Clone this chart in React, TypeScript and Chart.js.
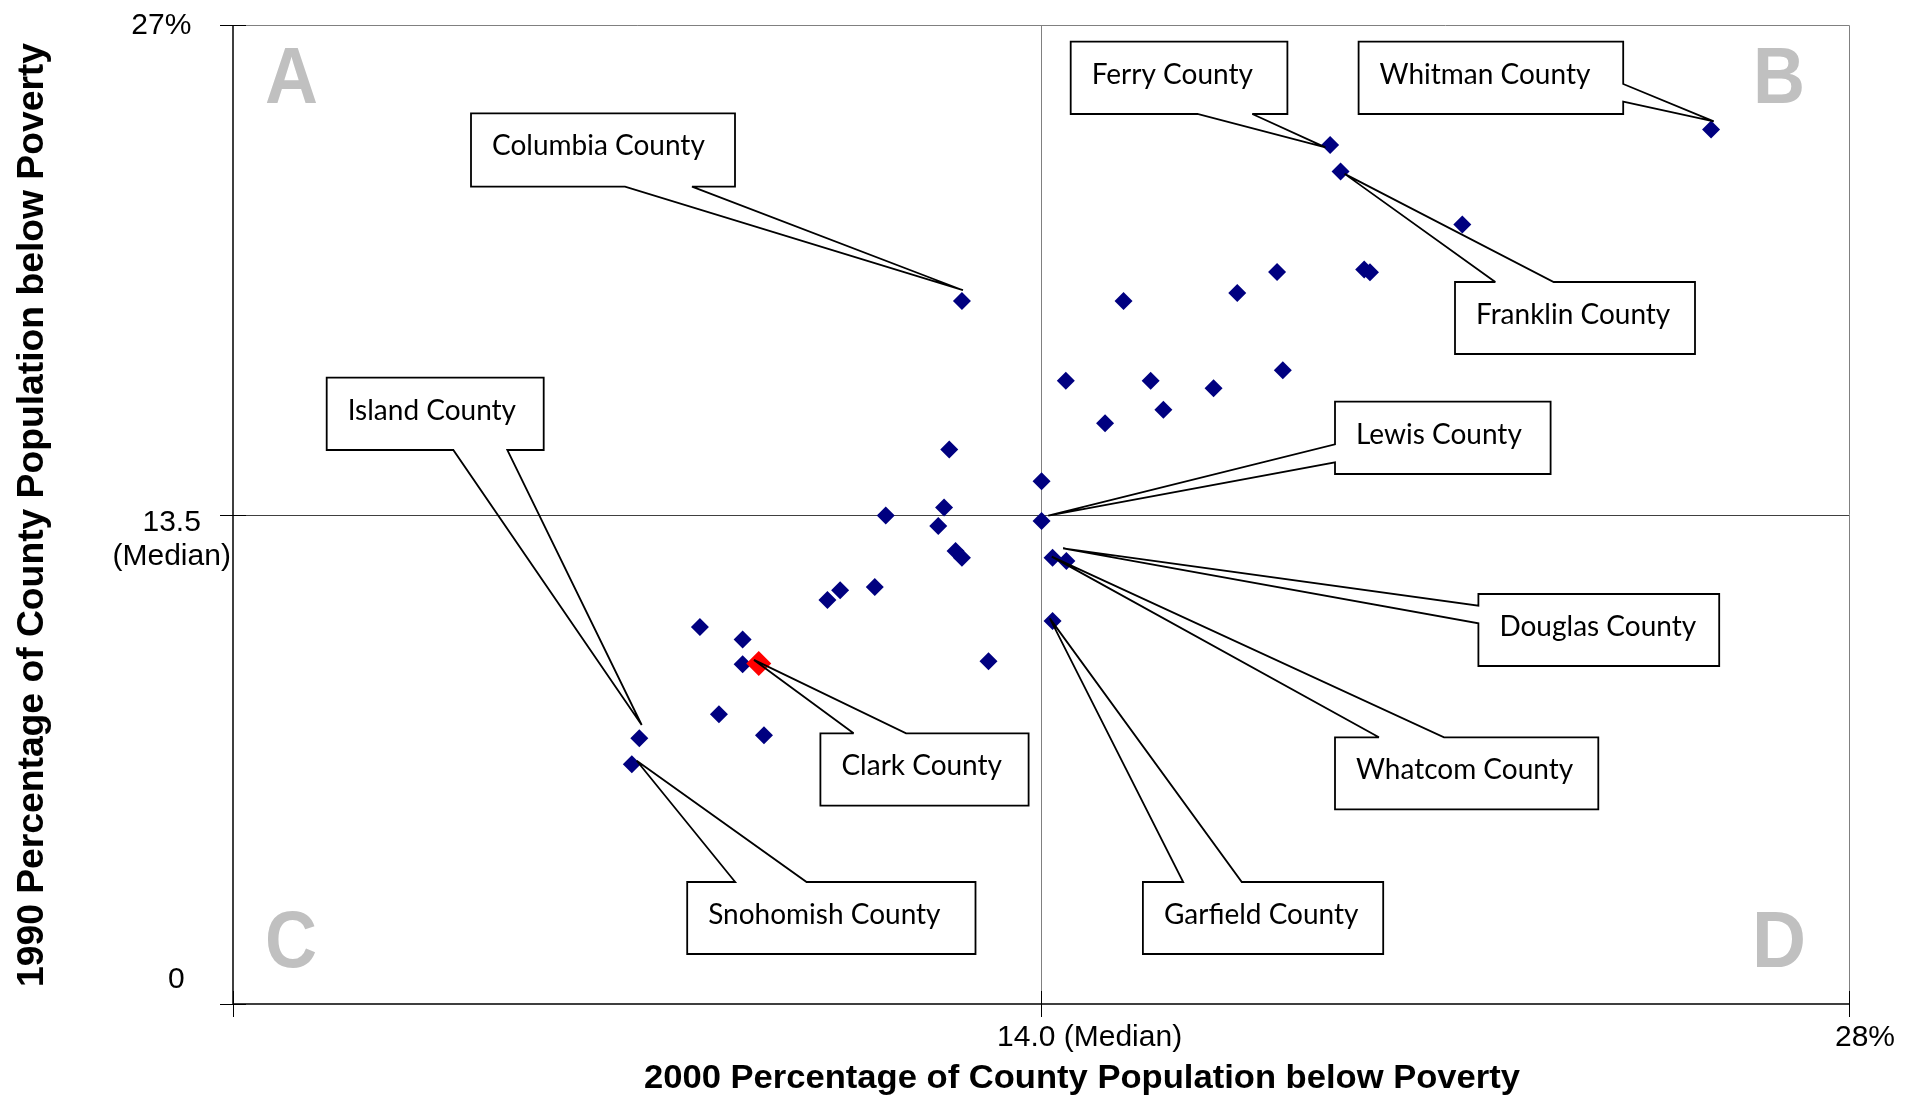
import React, { useEffect, useRef } from "react";
import { Chart, registerables } from "chart.js";

Chart.register(...registerables);

// ---------------- data ----------------
const countyNames = [
  "Whitman County", "Ferry County", "Franklin County", "", "", "", "", "", "", "Columbia County",
  "", "", "", "", "", "", "", "", "Lewis County", "",
  "", "", "", "", "Whatcom County", "Douglas County", "", "", "", "Garfield County",
  "", "", "", "Clark County", "", "", "", "Island County", "Snohomish County",
];
// 2000 percentage of county population below poverty (x)
const poverty2000 = [
  25.61, 19.01, 19.19, 21.3, 19.6, 19.7, 18.09, 17.4, 15.43, 12.63,
  18.19, 14.43, 15.9, 16.99, 16.12, 15.11, 12.41, 14.01, 14.01, 12.32,
  11.31, 12.22, 12.52, 12.63, 14.2, 14.44, 11.12, 10.52, 10.3, 14.2,
  8.09, 8.83, 8.83, 9.11, 13.09, 8.42, 9.2, 7.04, 6.91,
];
// 1990 percentage of county population below poverty (y)
const poverty1990 = [
  24.12, 23.69, 22.96, 21.5, 20.26, 20.18, 20.19, 19.61, 19.39, 19.39,
  17.48, 17.19, 17.19, 16.98, 16.39, 16.02, 15.29, 14.42, 13.32, 13.69,
  13.47, 13.18, 12.49, 12.31, 12.31, 12.22, 11.5, 11.41, 11.14, 10.56,
  10.4, 10.05, 9.37, 9.39, 9.45, 7.99, 7.41, 7.33, 6.61,
];
const highlightedCounty = "Clark County";

const xMedian = 14.0;
const yMedian = 13.5;
const xAxisMax = 28;
const yAxisMax = 27;
const xTickValues = [0, 14, 28];
const xTickLabels = ["", "14.0 (Median)", "28%"];
const yTickValues = [0, 13.5, 27];
const yTickLabels = [["0"], ["13.5", "(Median)"], ["27%"]];
const quadrantLetters = ["A", "B", "C", "D"];
const xAxisTitle = "2000 Percentage of County Population below Poverty";
const yAxisTitle = "1990 Percentage of County Population below Poverty";

// ---------------- layout of callouts (canvas pixels) ----------------
type Callout = {
  county: string;
  box: [number, number, number, number]; // left, top, right, bottom
  side: "top" | "right" | "bottom" | "left";
  base: [number, number];
  tipOffset: [number, number];
};
const CALLOUTS: Callout[] = [
  { county: "Columbia County", box: [471, 113.3, 735, 186.7], side: "bottom", base: [625, 692], tipOffset: [1, -10.7] },
  { county: "Ferry County", box: [1070.7, 41.7, 1287.4, 114], side: "bottom", base: [1197.4, 1252.3], tipOffset: [-4.7, 2.3] },
  { county: "Whitman County", box: [1358.6, 41.7, 1623.2, 114], side: "right", base: [84, 101.7], tipOffset: [2.7, -8.1] },
  { county: "Franklin County", box: [1455, 282, 1695, 354], side: "top", base: [1495.3, 1553.7], tipOffset: [4.1, 2.4] },
  { county: "Lewis County", box: [1335, 401.7, 1550.6, 474], side: "left", base: [444.3, 462.3], tipOffset: [6.7, -5.4] },
  { county: "Douglas County", box: [1478.4, 594, 1719.2, 666], side: "left", base: [605.7, 623.3], tipOffset: [-3.3, -12.5] },
  { county: "Whatcom County", box: [1335, 737.3, 1598.3, 809.3], side: "top", base: [1378.9, 1444], tipOffset: [-0.8, -1] },
  { county: "Garfield County", box: [1142.9, 882, 1383.2, 954], side: "top", base: [1183.2, 1241.8], tipOffset: [-2.7, -2.7] },
  { county: "Snohomish County", box: [687.2, 882, 975.5, 954], side: "top", base: [735.2, 806.6], tipOffset: [4.9, -3.6] },
  { county: "Clark County", box: [820.4, 733.3, 1028.6, 805.7], side: "top", base: [853.6, 906.1], tipOffset: [-4.8, -3.6] },
  { county: "Island County", box: [326.7, 377.7, 543.7, 450], side: "bottom", base: [453.3, 507.3], tipOffset: [2.4, -13.2] },
];

const SANS = '"Liberation Sans", Arial, sans-serif';
const LABEL_FONT = '28px Lato, "Open Sans", sans-serif';

function scaledText(ctx: CanvasRenderingContext2D, text: string, x: number, y: number, width: number) {
  const m = ctx.measureText(text).width;
  const s = width / m;
  ctx.save();
  ctx.translate(x, y);
  ctx.scale(s, 1);
  ctx.textAlign = "center";
  ctx.fillText(text, 0, 0);
  ctx.restore();
}

const overlayPlugin = {
  id: "overlay",
  beforeDatasetsDraw(chart: any) {
    const { ctx, chartArea: a, scales } = chart;
    const xs = scales.x;
    const ys = scales.y;
    ctx.save();
    // quadrant letters
    ctx.fillStyle = "#c0c0c0";
    ctx.font = `bold 80px ${SANS}`;
    ctx.textBaseline = "alphabetic";
    ctx.textAlign = "left";
    ctx.fillText(quadrantLetters[0], a.left + 32, a.top + 78, 53);
    ctx.fillText(quadrantLetters[1], a.right - 96, a.top + 78, 52);
    ctx.fillText(quadrantLetters[2], a.left + 32, a.bottom - 37, 52);
    ctx.fillText(quadrantLetters[3], a.right - 97, a.bottom - 37, 54);

    // frame (top/right) gray
    ctx.strokeStyle = "#808080";
    ctx.lineWidth = 1;
    ctx.beginPath();
    ctx.moveTo(a.left, a.top + 0.5);
    ctx.lineTo(a.right + 0.5, a.top + 0.5);
    ctx.lineTo(a.right + 0.5, a.bottom);
    ctx.stroke();

    // median lines
    const mx = Math.round(xs.getPixelForValue(xMedian)) + 0.5;
    const my = Math.round(ys.getPixelForValue(yMedian)) + 0.5;
    ctx.strokeStyle = "#808080";
    ctx.beginPath();
    ctx.moveTo(mx, a.top);
    ctx.lineTo(mx, a.bottom);
    ctx.stroke();
    ctx.strokeStyle = "#404040";
    ctx.beginPath();
    ctx.moveTo(a.left, my);
    ctx.lineTo(a.right, my);
    ctx.stroke();

    // axes
    ctx.strokeStyle = "#000";
    ctx.lineWidth = 1.5;
    ctx.beginPath();
    ctx.moveTo(a.left, a.top);
    ctx.lineTo(a.left, a.bottom);
    ctx.moveTo(a.left, a.bottom);
    ctx.lineTo(a.right, a.bottom);
    ctx.stroke();
    ctx.lineWidth = 1;
    ctx.beginPath();
    for (const v of yTickValues) {
      const py = Math.round(ys.getPixelForValue(v)) + 0.5;
      ctx.moveTo(a.left - 13, py);
      ctx.lineTo(a.left + 13, py);
    }
    for (const v of xTickValues) {
      const px = Math.round(xs.getPixelForValue(v)) + 0.5;
      ctx.moveTo(px, a.bottom - 13);
      ctx.lineTo(px, a.bottom + 13);
    }
    ctx.stroke();
    ctx.restore();
  },
  afterDatasetsDraw(chart: any) {
    const { ctx, chartArea: a, scales } = chart;
    const xs = scales.x;
    const ys = scales.y;
    ctx.save();

    // callouts
    for (const c of CALLOUTS) {
      const i = countyNames.indexOf(c.county);
      if (i < 0) continue;
      const px = xs.getPixelForValue(poverty2000[i]);
      const py = ys.getPixelForValue(poverty1990[i]);
      const tip: [number, number] = [px + c.tipOffset[0], py + c.tipOffset[1]];
      const [L, T, R, B] = c.box;
      const pts: [number, number][] = [[L, T]];
      if (c.side === "top") pts.push([c.base[0], T], tip, [c.base[1], T]);
      pts.push([R, T]);
      if (c.side === "right") pts.push([R, c.base[0]], tip, [R, c.base[1]]);
      pts.push([R, B]);
      if (c.side === "bottom") pts.push([c.base[1], B], tip, [c.base[0], B]);
      pts.push([L, B]);
      if (c.side === "left") pts.push([L, c.base[1]], tip, [L, c.base[0]]);
      ctx.fillStyle = "#fff";
      ctx.fillRect(L, T, R - L, B - T);
      ctx.strokeStyle = "#000";
      ctx.lineWidth = 1.8;
      ctx.lineJoin = "miter";
      ctx.miterLimit = 3;
      ctx.beginPath();
      ctx.moveTo(pts[0][0], pts[0][1]);
      for (let k = 1; k < pts.length; k++) ctx.lineTo(pts[k][0], pts[k][1]);
      ctx.closePath();
      ctx.stroke();
      ctx.fillStyle = "#000";
      ctx.font = LABEL_FONT;
      ctx.textAlign = "left";
      ctx.textBaseline = "alphabetic";
      ctx.fillText(c.county, L + 21, T + 42);
    }

    // tick labels
    ctx.fillStyle = "#000";
    ctx.textBaseline = "alphabetic";
    ctx.textAlign = "center";
    const yLabelPos = [
      { cx: 176.4, dy: [-16] },
      { cx: 171.7, dy: [16.5, 50.5] },
      { cx: 161.3, dy: [8.5] },
    ];
    yTickValues.forEach((v, k) => {
      const py = ys.getPixelForValue(v);
      yTickLabels[k].forEach((line, j) => {
        ctx.font = `30px ${SANS}`;
        ctx.fillText(line, yLabelPos[k].cx, py + yLabelPos[k].dy[j]);
      });
    });
    const xLabelDx = [0, 48.6, 16];
    xTickValues.forEach((v, k) => {
      if (!xTickLabels[k]) return;
      const px = xs.getPixelForValue(v);
      ctx.font = `30px ${SANS}`;
      ctx.fillText(xTickLabels[k], px + xLabelDx[k], a.bottom + 42);
    });

    // axis titles
    ctx.font = `bold 34px ${SANS}`;
    scaledText(ctx, xAxisTitle, 1082, 1088, 876);
    ctx.save();
    ctx.translate(42.5, 515);
    ctx.rotate(-Math.PI / 2);
    ctx.font = `bold 36px ${SANS}`;
    scaledText(ctx, yAxisTitle, 0, 0, 944);
    ctx.restore();

    ctx.restore();
  },
};

export default function App() {
  const ref = useRef<HTMLCanvasElement>(null);
  useEffect(() => {
    const canvas = ref.current;
    if (!canvas) return;
    const others = countyNames
      .map((n, i) => ({ n, x: poverty2000[i], y: poverty1990[i] }))
      .filter((d) => d.n !== highlightedCounty)
      .map((d) => ({ x: d.x, y: d.y }));
    const hi = countyNames
      .map((n, i) => ({ n, x: poverty2000[i], y: poverty1990[i] }))
      .filter((d) => d.n === highlightedCounty)
      .map((d) => ({ x: d.x, y: d.y }));
    const chart = new Chart(canvas, {
      type: "scatter",
      data: {
        datasets: [
          {
            label: "Washington counties",
            data: others,
            pointStyle: "rectRot",
            pointRadius: 9,
            pointHoverRadius: 9,
            backgroundColor: "#000080",
            borderColor: "#000080",
            borderWidth: 0,
            order: 1,
          },
          {
            label: highlightedCounty,
            data: hi,
            pointStyle: "rectRot",
            pointRadius: 12.5,
            pointHoverRadius: 12.5,
            backgroundColor: "#ff0000",
            borderColor: "#ff0000",
            borderWidth: 0,
            order: 0,
          },
        ],
      },
      options: {
        responsive: false,
        animation: false,
        events: [],
        layout: { padding: { left: 233, top: 25, right: 67, bottom: 92 } },
        plugins: { legend: { display: false }, tooltip: { enabled: false }, title: { display: false } },
        scales: {
          x: { type: "linear", min: 0, max: xAxisMax, display: false },
          y: { type: "linear", min: 0, max: yAxisMax, display: false },
        },
      },
      plugins: [overlayPlugin],
    });
    return () => chart.destroy();
  }, []);
  return (
    <div style={{ position: "fixed", left: 0, top: 0, width: 1916, height: 1096, background: "#fff" }}>
      <canvas ref={ref} width={1916} height={1096} style={{ display: "block", width: 1916, height: 1096 }} />
    </div>
  );
}
